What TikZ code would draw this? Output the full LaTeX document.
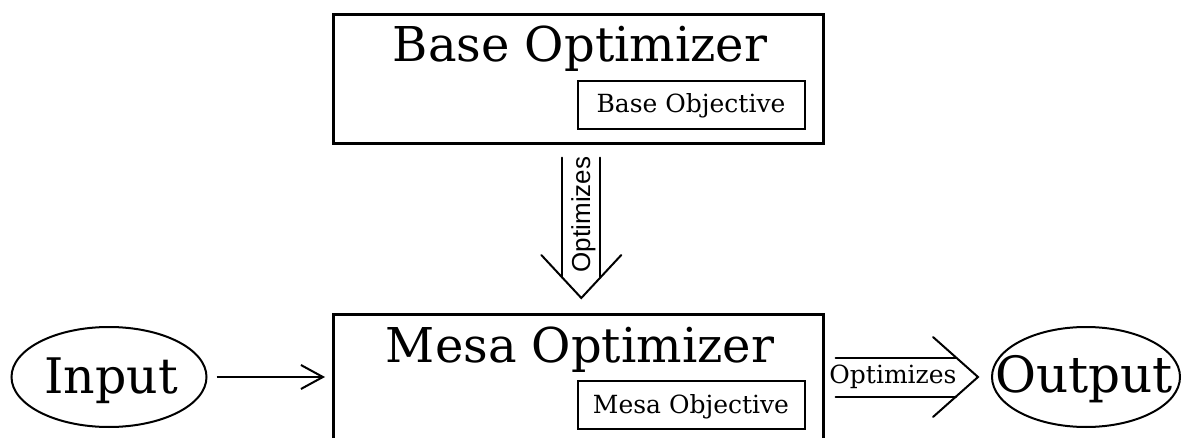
\documentclass[tikz,border=0pt]{standalone}
\usepackage{fontspec}
\setmainfont{DejaVu Serif}
\newfontfamily\labelsans{Liberation Sans}
\usetikzlibrary{shapes.geometric,arrows.meta}

\begin{document}
\begin{tikzpicture}[x=1pt,y=-1pt,
  box/.style={draw, line width=2.6pt, rectangle, inner sep=0pt, anchor=north west},
  objbox/.style={draw, line width=2.2pt, rectangle, inner sep=0pt, anchor=north west},
  oval/.style={draw, ellipse, line width=2pt, inner sep=0pt},
  title/.style={anchor=base, inner sep=0pt, font=\fontsize{48}{50}\selectfont},
  objtext/.style={anchor=base, inner sep=0pt, font=\fontsize{25}{27}\selectfont},
  ovaltext/.style={anchor=base, inner sep=0pt},
  fat/.style={line width=2pt, line cap=round},
  thinarrow/.style={line width=2pt, -{Straight Barb[length=22pt, width=24pt]}}
]
\clip (0,0) rectangle (1185,438);

% base optimizer with its objective
\node[box, minimum width=490pt, minimum height=129pt] (base) at (332,13) {};
\node[objbox, minimum width=227pt, minimum height=48pt] (baseobj) at (577,80) {};
\node[title] (basetitle) at (580,62) {Base Optimizer};
\node[objtext] (baseobjtext) at (691,113) {Base Objective};

% mesa optimizer with its objective
\node[box, minimum width=490pt, minimum height=150pt] (mesa) at (332,313) {};
\node[objbox, minimum width=227pt, minimum height=48pt] (mesaobj) at (577,380) {};
\node[title] (mesatitle) at (580,362) {Mesa Optimizer};
\node[objtext] (mesaobjtext) at (691,413) {Mesa Objective};

% input and output
\node[oval, minimum width=195pt, minimum height=100pt] (input) at (109,377) {};
\node[ovaltext, font=\fontsize{49}{51}\selectfont] (inputtext) at (111,393) {Input};
\node[oval, minimum width=188pt, minimum height=100pt] (output) at (1086,377) {};
\node[ovaltext, font=\fontsize{50}{52}\selectfont] (outputtext) at (1084,392) {Output};

% input feeds the mesa optimizer
\draw[thinarrow, shorten <=9pt, shorten >=7pt] (input.east) -- (input.east -| mesa.west);

% base optimizer optimizes the mesa optimizer
\coordinate (vtop) at ([xshift=3pt,yshift=-13pt]base.south);
\coordinate (vtip) at ([xshift=3pt,yshift=15pt]mesa.north);
\draw[fat] ([xshift=-19pt]vtop) -- ([xshift=-19pt,yshift=20.5pt]vtip);
\draw[fat] ([xshift=19pt]vtop) -- ([xshift=19pt,yshift=20.5pt]vtip);
\draw[fat, line join=miter] ([xshift=-40pt,yshift=43pt]vtip) -- (vtip) -- ([xshift=40pt,yshift=43pt]vtip);
\node[anchor=base, rotate=90, inner sep=0pt, font=\labelsans\fontsize{26}{28}\selectfont] (vlabel) at (590,214.5) {Optimizes};

% mesa optimizer optimizes the output
\coordinate (htail) at (mesa.east |- output.west);
\coordinate (htip) at ([xshift=-13pt]output.west);
\draw[fat] ([xshift=11pt,yshift=19.5pt]htail) -- ([xshift=-22pt,yshift=19.5pt]htip);
\draw[fat] ([xshift=11pt,yshift=-19.5pt]htail) -- ([xshift=-22pt,yshift=-19.5pt]htip);
\draw[fat, line join=miter] ([xshift=-45pt,yshift=40pt]htip) -- (htip) -- ([xshift=-45pt,yshift=-40pt]htip);
\node[anchor=base, inner sep=0pt, font=\fontsize{25}{27}\selectfont] (hlabel) at (893,383) {Optimizes};
\end{tikzpicture}
\end{document}
